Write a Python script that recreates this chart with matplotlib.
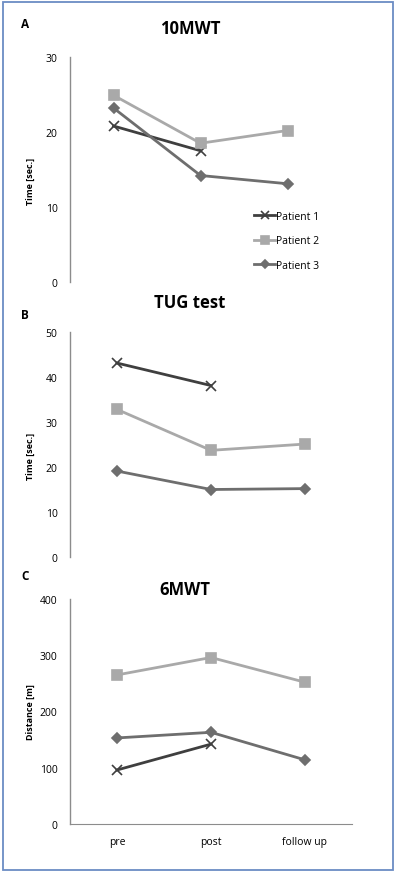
import matplotlib.pyplot as plt
from matplotlib.patches import Rectangle

plt.rcParams['font.family'] = ['Open Sans', 'DejaVu Sans']

# Data
phases = ['pre', 'post', 'follow up']
patients = ['Patient 1', 'Patient 2', 'Patient 3']

mwt10_p1 = [20.8, 17.5]
mwt10_p2 = [24.9, 18.5, 20.2]
mwt10_p3 = [23.2, 14.2, 13.1]

tug_p1 = [43.1, 38.1]
tug_p2 = [32.8, 23.7, 25.1]
tug_p3 = [19.1, 15.0, 15.2]

mwt6_p1 = [96, 142]
mwt6_p2 = [265, 296, 252]
mwt6_p3 = [153, 163, 114]

colors = ['#3f3f3f', '#a9a9a9', '#6e6e6e']
markers = ['x', 's', 'D']
msizes = [7, 7, 5]

W, H = 397, 878
fig = plt.figure(figsize=(W / 100, H / 100), dpi=100)


def px_axes(x0, x1, y0, y1):
    return fig.add_axes([x0 / W, 1 - y1 / H, (x1 - x0) / W, (y1 - y0) / H])


def draw(ax, series, ymax, step, ylabel, xaxis):
    for i, vals in enumerate(series):
        ax.plot(range(len(vals)), vals, color=colors[i], marker=markers[i],
                markersize=msizes[i], markeredgewidth=1.2, linewidth=2,
                label=patients[i])
    ax.set_xlim(-0.5, 2.5)
    ax.set_ylim(0, ymax)
    ax.set_yticks(range(0, ymax + 1, step))
    ax.tick_params(axis='y', length=0, pad=9, labelsize=7.5, colors='black')
    for s in ['top', 'right']:
        ax.spines[s].set_visible(False)
    ax.spines['left'].set_color('#8c8c8c')
    ax.spines['left'].set_linewidth(1)
    ax.set_ylabel(ylabel, fontsize=6.5, fontweight='bold')
    if xaxis:
        ax.spines['bottom'].set_color('#8c8c8c')
        ax.set_xticks(range(3))
        ax.set_xticklabels(phases)
        ax.tick_params(axis='x', length=0, pad=9, labelsize=7.5)
    else:
        ax.spines['bottom'].set_visible(False)
        ax.set_xticks([])


axA = px_axes(70, 331, 58, 283)
draw(axA, [mwt10_p1, mwt10_p2, mwt10_p3], 30, 10, 'Time [sec.]', False)
axA.yaxis.set_label_coords(-0.134, 0.45)
axA.legend(loc='upper left', bbox_to_anchor=(0.69, 0.335), frameon=False,
           fontsize=7.5, handlelength=2.0, handletextpad=0.05,
           labelspacing=1.3, borderaxespad=0, markerscale=0.75)

axB = px_axes(70, 352, 333, 558)
draw(axB, [tug_p1, tug_p2, tug_p3], 50, 10, 'Time [sec.]', False)
axB.yaxis.set_label_coords(-0.124, 0.45)

axC = px_axes(70, 352, 600, 825)
draw(axC, [mwt6_p1, mwt6_p2, mwt6_p3], 400, 100, 'Distance [m]', True)
axC.yaxis.set_label_coords(-0.124, 0.5)

# titles and panel letters
fig.text(190 / W, 1 - 29 / H, '10MWT', ha='center', va='center',
         fontsize=12, fontweight='bold')
fig.text(190 / W, 1 - 303 / H, 'TUG test', ha='center', va='center',
         fontsize=12, fontweight='bold')
fig.text(185 / W, 1 - 590 / H, '6MWT', ha='center', va='center',
         fontsize=12, fontweight='bold')
for letter, y in [('A', 25), ('B', 316), ('C', 577)]:
    fig.text(25 / W, 1 - y / H, letter, ha='center', va='center',
             fontsize=8.5, fontweight='bold')

# outer frame
fig.patches.append(Rectangle((3 / W, 1 - 871 / H), 390 / W, 868 / H,
                             transform=fig.transFigure, fill=False,
                             edgecolor='#6b8cc4', linewidth=1.3))

fig.savefig('out.png', dpi=100)
